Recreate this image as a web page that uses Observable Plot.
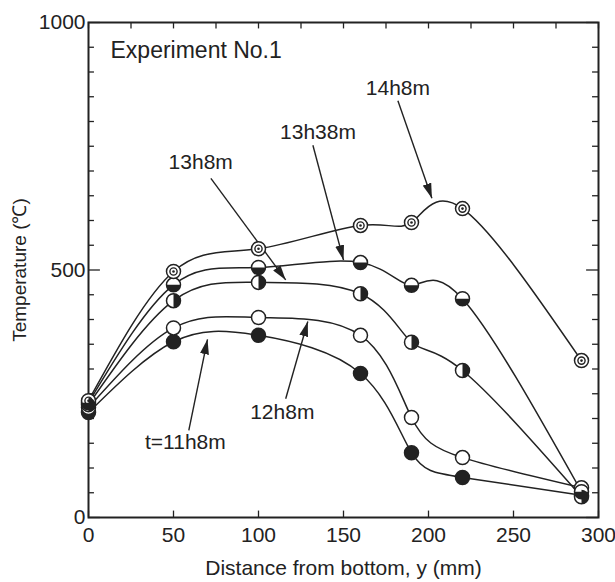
<!DOCTYPE html>
<html>
<head>
<meta charset="utf-8">
<script src="https://cdn.jsdelivr.net/npm/d3@7"></script>
<script src="https://cdn.jsdelivr.net/npm/@observablehq/plot@0.6"></script>
<style>
  html, body { margin: 0; padding: 0; background: #fff; }
</style>
</head>
<body>
<div id="chart"></div>
<script>
// ---- data ----
const distance = [0, 50, 100, 160, 190, 220, 290];
const t11h8m  = [212, 355, 368, 291, 131, 81, 45];
const t12h8m  = [222, 383, 404, 368, 202, 121, 60];
const t13h8m  = [228, 438, 475, 452, 354, 297, 42];
const t13h38m = [232, 470, 505, 515, 469, 442, 52];
const t14h8m  = [236, 497, 543, 590, 596, 624, 317];
const seriesNames = ["t=11h8m", "12h8m", "13h8m", "13h38m", "14h8m"];

const xTickLabels = [0, 50, 100, 150, 200, 250, 300];
const xMinorTicks = [0, 25, 50, 75, 100, 125, 150, 175, 200, 225, 250, 275, 300];
const yTickLabels = [0, 500, 1000];
const yMinorTicks = [0, 50, 100, 150, 200, 250, 300, 350, 400, 450, 500, 550, 600, 650, 700, 750, 800, 850, 900, 950, 1000];

// arrow annotations: label position, arrow tail, arrow tip (data units)
const labelText = ["14h8m", "13h38m", "13h8m", "12h8m", "t=11h8m"];
const labelX    = [182, 135, 66, 114, 57];
const labelY    = [867, 778, 717, 212, 151];
const arrowX1   = [182, 132, 72, 116, 59];
const arrowY1   = [842, 752, 685, 240, 176];
const arrowX2   = [202, 150, 116, 129, 70];
const arrowY2   = [645, 520, 480, 396, 360];

// ---- build tables ----
const seriesValues = [t11h8m, t12h8m, t13h8m, t13h38m, t14h8m];
const rows = seriesNames.flatMap((s, i) => distance.map((d, j) => ({series: s, x: d, y: seriesValues[i][j]})));
const rowsOf = (s) => rows.filter(r => r.series === s);
const notes = labelText.map((t, i) => ({t, x: labelX[i], y: labelY[i], x1: arrowX1[i], y1: arrowY1[i], x2: arrowX2[i], y2: arrowY2[i]}));

const ink = "#222";
const R = 7;

const rightHalf = {draw(ctx, size) { const r = Math.sqrt(size / Math.PI); ctx.moveTo(0, -r); ctx.arc(0, 0, r, -Math.PI / 2, Math.PI / 2); ctx.closePath(); }};
const bottomHalf = {draw(ctx, size) { const r = Math.sqrt(size / Math.PI); ctx.moveTo(r, 0); ctx.arc(0, 0, r, 0, Math.PI); ctx.closePath(); }};

const svg = Plot.plot({
  width: 615,
  height: 582,
  marginLeft: 88,
  marginRight: 17,
  marginTop: 22,
  marginBottom: 65,
  style: {fontFamily: "'Liberation Sans', Arial, sans-serif", color: ink, background: "#fff"},
  x: {domain: [0, 300]},
  y: {domain: [0, 1000]},
  marks: [
    // inner ticks
    Plot.ruleX(xTickLabels, {x: d => d, y1: 0, y2: 13, stroke: ink, strokeWidth: 1.3}),
    Plot.ruleX(xMinorTicks, {x: d => d, y1: 1000, y2: 987, stroke: ink, strokeWidth: 1.3}),
    Plot.ruleY(yMinorTicks, {y: d => d, x1: 0, x2: d => d % 500 === 0 ? 7 : 3.5, stroke: ink, strokeWidth: 1.3}),
    Plot.ruleY(yMinorTicks, {y: d => d, x1: 300, x2: d => d % 500 === 0 ? 293 : 296.5, stroke: ink, strokeWidth: 1.3}),
    Plot.frame({stroke: ink, strokeWidth: 2}),
    Plot.axisX(xTickLabels, {tickSize: 0, tickPadding: 10, fontSize: 21, tickFormat: d => String(d), label: null}),
    Plot.axisY(yTickLabels, {tickSize: 0, tickPadding: 3, fontSize: 21, tickFormat: d => String(d), label: null}),
    Plot.text(["Distance from bottom, y (mm)"], {frameAnchor: "bottom", lineAnchor: "middle", textAnchor: "middle", dy: 51, fontSize: 21, fill: ink}),
    Plot.text(["Temperature (\u2103)"], {frameAnchor: "left", textAnchor: "middle", lineAnchor: "middle", rotate: -90, dx: -69, fontSize: 19, fill: ink}),
    Plot.text(["Experiment No.1"], {frameAnchor: "top-left", lineAnchor: "middle", dx: 22, dy: 28, textAnchor: "start", fontSize: 23, fill: ink}),
    // curves
    Plot.line(rows, {x: "x", y: "y", z: "series", curve: "natural", stroke: ink, strokeWidth: 1.5}),
    // arrows
    Plot.link(notes, {x1: "x1", y1: "y1", x2: "x2", y2: "y2", stroke: ink, strokeWidth: 1.4}),
    Plot.text(notes, {x: "x", y: "y", text: "t", fontSize: 21, fill: ink}),
    // markers: base circles
    Plot.dot(rows, {x: "x", y: "y", r: R, fill: d => d.series === "t=11h8m" ? ink : "#fff", stroke: ink, strokeWidth: 1.5}),
    Plot.dot(rowsOf("13h8m"), {x: "x", y: "y", r: R, symbol: rightHalf, fill: ink, stroke: "none"}),
    Plot.dot(rowsOf("13h38m"), {x: "x", y: "y", r: R, symbol: bottomHalf, fill: ink, stroke: "none"}),
    Plot.dot(rowsOf("14h8m"), {x: "x", y: "y", r: 3.6, fill: "none", stroke: ink, strokeWidth: 1.4}),
    Plot.dot(rowsOf("14h8m"), {x: "x", y: "y", r: 1.3, fill: ink})
  ]
});

// filled triangular arrowheads on the annotation links
const sel = d3.select(svg);
sel.append("defs").html('<marker id="ah" viewBox="0 0 15 9" refX="15" refY="4.5" markerWidth="15" markerHeight="9" markerUnits="userSpaceOnUse" orient="auto"><path d="M0,0L15,4.5L0,9z" fill="' + ink + '"/></marker>');
sel.selectAll('g[aria-label="link"] path').attr("marker-end", "url(#ah)");

document.getElementById("chart").appendChild(svg);
</script>
</body>
</html>
